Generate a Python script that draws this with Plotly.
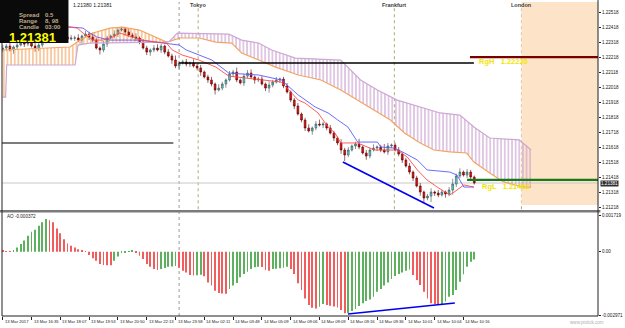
import plotly.graph_objects as go

# ---------------- data ----------------
bars = list(range(132))
closes = [
    1.22281, 1.22294, 1.22268, 1.22288, 1.22301, 1.22314, 1.22308, 1.22321, 1.22294, 1.22281,
    1.22301, 1.22321, 1.22334, 1.22348, 1.22361, 1.22354, 1.22368, 1.22354, 1.22341, 1.22348,
    1.22348, 1.22334, 1.22361, 1.22374, 1.22354, 1.22334, 1.22281, 1.22268, 1.22308, 1.22348,
    1.22361, 1.22374, 1.22401, 1.22408, 1.22388, 1.22368, 1.22354, 1.22348, 1.22321, 1.22281,
    1.22254, 1.22268, 1.22281, 1.22268, 1.22294, 1.22254, 1.22228, 1.22201, 1.22161, 1.22181,
    1.22188, 1.22174, 1.22181, 1.22161, 1.22148, 1.22121, 1.22088, 1.22068, 1.22041, 1.22001,
    1.22014, 1.22041, 1.22068, 1.22108, 1.22121, 1.22068, 1.22048, 1.22094, 1.22114, 1.22088,
    1.22068, 1.22074, 1.22041, 1.22014, 1.22034, 1.22054, 1.22068, 1.22074, 1.22028, 1.21988,
    1.21934, 1.21894, 1.21841, 1.21801, 1.21748, 1.21728, 1.21748, 1.21774, 1.21768, 1.21774,
    1.21748, 1.21714, 1.21681, 1.21648, 1.21601, 1.21568, 1.21601, 1.21628, 1.21641, 1.21621,
    1.21581, 1.21561, 1.21601, 1.21614, 1.21621, 1.21601, 1.21588, 1.21628, 1.21634, 1.21601,
    1.21574, 1.21534, 1.21494, 1.21454, 1.21414, 1.21361, 1.21321, 1.21281, 1.21294, 1.21321,
    1.21314, 1.21301, 1.21321, 1.21308, 1.21334, 1.21374, 1.21428, 1.21454, 1.21434, 1.21454,
    1.21421, 1.21381]
first_open = 1.22270
# wick lengths in 0.00001 price units
wick_up = [20, 15, 25, 10, 15, 20, 10, 15, 25, 20, 15, 10, 20, 15, 25, 10, 20, 15, 10, 20,
           15, 25, 10, 20, 15, 30, 15, 10, 20, 15, 10, 25, 20, 15, 10, 20, 15, 25, 10, 20,
           15, 10, 20, 25, 15, 10, 20, 15, 30, 10, 15, 20, 10, 25, 15, 20, 10, 15, 20, 10,
           25, 15, 10, 20, 15, 30, 10, 15, 20, 25, 10, 15, 20, 10, 25, 15, 20, 10, 15, 20,
           10, 15, 20, 10, 15, 25, 10, 20, 30, 15, 10, 20, 15, 10, 25, 15, 20, 10, 15, 35,
           10, 20, 15, 25, 10, 15, 40, 20, 10, 15, 20, 10, 15, 20, 10, 15, 20, 10, 15, 25,
           10, 20, 15, 10, 20, 35, 15, 25, 10, 20, 15, 10]
wick_dn = [15, 20, 10, 25, 15, 10, 20, 15, 10, 25, 20, 15, 10, 20, 15, 25, 10, 20, 15, 10,
           20, 15, 25, 10, 20, 15, 10, 30, 15, 20, 10, 15, 20, 10, 25, 15, 10, 20, 15, 10,
           20, 25, 15, 10, 20, 15, 10, 25, 15, 20, 10, 15, 20, 10, 15, 25, 10, 20, 15, 30,
           10, 15, 25, 10, 20, 15, 10, 20, 15, 10, 25, 15, 10, 20, 30, 15, 10, 20, 15, 10,
           15, 20, 10, 15, 20, 10, 25, 15, 10, 20, 15, 10, 20, 15, 25, 40, 15, 10, 20, 15,
           10, 25, 15, 10, 20, 15, 10, 20, 15, 10, 15, 20, 10, 15, 20, 10, 25, 30, 15, 40,
           20, 15, 10, 25, 15, 30, 20, 15, 10, 20, 15, 10]

ao_values = [
    0.00005, 0.00002, 0.00002, 0.00008, 0.00020, 0.00036, 0.00052, 0.00075, 0.00094, 0.00103,
    0.00122, 0.00138, 0.00153, 0.00148, 0.00138, 0.00109, 0.00086, 0.00059, 0.00039, 0.00028,
    0.00020, 0.00012, 0.00008, 0.00003, -0.00016, -0.00031, -0.00042, -0.00058, -0.00062, -0.00063,
    -0.00064, -0.00042, -0.00022, -0.00006, -0.00003, 0.00003, 0.00004, -0.00006, -0.00019, -0.00034,
    -0.00058, -0.00070, -0.00081, -0.00086, -0.00081, -0.00077, -0.00070, -0.00069, -0.00067, -0.00075,
    -0.00089, -0.00097, -0.00109, -0.00112, -0.00110, -0.00108, -0.00115, -0.00144, -0.00159, -0.00183,
    -0.00194, -0.00196, -0.00197, -0.00175, -0.00159, -0.00147, -0.00120, -0.00105, -0.00094, -0.00081,
    -0.00073, -0.00070, -0.00072, -0.00086, -0.00089, -0.00081, -0.00080, -0.00078, -0.00075, -0.00070,
    -0.00081, -0.00105, -0.00148, -0.00180, -0.00219, -0.00250, -0.00263, -0.00266, -0.00258, -0.00245,
    -0.00250, -0.00254, -0.00257, -0.00262, -0.00273, -0.00289, -0.00287, -0.00278, -0.00269, -0.00255,
    -0.00242, -0.00231, -0.00224, -0.00211, -0.00188, -0.00175, -0.00159, -0.00144, -0.00128, -0.00114,
    -0.00105, -0.00098, -0.00089, -0.00083, -0.00109, -0.00133, -0.00156, -0.00188, -0.00219, -0.00242,
    -0.00247, -0.00250, -0.00247, -0.00234, -0.00211, -0.00203, -0.00180, -0.00141, -0.00106, -0.00070,
    -0.00047, -0.00037]

span_a_x = [0, 18.7, 21.5, 25.1, 29.8, 33.3, 38.0, 42.7, 45.5, 46.3, 49.3, 54.5, 59.2, 63.6, 66.4,
            71.1, 75.8, 82.1, 88.4, 93.9, 98.6, 103.3, 107.7, 111.6, 116.0, 119.8, 124.2, 128.9,
            130.9, 135.3, 139.1, 144.6, 146.8]
span_a_y = [1.22268, 1.22288, 1.22334, 1.22381, 1.22414, 1.22421, 1.22401, 1.22354, 1.22321, 1.22325,
            1.22348, 1.22348, 1.22321, 1.22314, 1.22248, 1.22201, 1.22154, 1.22101, 1.22068, 1.22001,
            1.21934, 1.21868, 1.21801, 1.21714, 1.21648, 1.21601, 1.21588, 1.21581, 1.21521, 1.21448,
            1.21388, 1.21354, 1.21354]
span_b_x = [0, 0.8, 1.1, 20.1, 20.9, 24.2, 44.9, 46.3, 48.5, 62.8, 66.4, 71.1, 74.7, 81.3, 93.9,
            99.4, 104.1, 109.6, 121.5, 127.0, 130.9, 135.3, 143.5, 146.8]
span_b_y = [1.21954, 1.21954, 1.22168, 1.22168, 1.22301, 1.22314, 1.22321, 1.22325, 1.22381, 1.22374,
            1.22334, 1.22314, 1.22268, 1.22214, 1.22201, 1.22068, 1.22001, 1.21934, 1.21848, 1.21834,
            1.21754, 1.21681, 1.21668, 1.21601]
cloud_cross = 46.3

tenkan_x = [0, 18.7, 20.7, 22.3, 25.1, 27.8, 30.6, 32.5, 36.1, 38.8, 42.7, 45.5, 47.1, 49.9, 54.5,
            59.2, 62.8, 71.1, 77.4, 82.1, 84.0, 87.6, 90.4, 92.3, 93.9, 98.6, 103.3, 109.6, 112.4,
            115.2, 117.9, 120.7, 124.2, 126.2, 128.1, 130.9]
tenkan_y = [1.22421, 1.22421, 1.22414, 1.22381, 1.22334, 1.22334, 1.22354, 1.22381, 1.22354, 1.22334,
            1.22321, 1.22314, 1.22268, 1.22234, 1.22201, 1.22154, 1.22094, 1.22074, 1.22054, 1.21934,
            1.21914, 1.21848, 1.21754, 1.21714, 1.21648, 1.21648, 1.21601, 1.21601, 1.21554, 1.21468,
            1.21401, 1.21354, 1.21301, 1.21334, 1.21368, 1.21354]
kijun_x = [0, 18.7, 22.3, 24.2, 26.2, 29.8, 38.0, 45.5, 49.0, 51.0, 54.5, 58.1, 62.8, 71.1, 77.4,
           82.1, 86.8, 90.4, 93.1, 95.9, 98.6, 104.1, 105.0, 108.8, 111.6, 115.2, 117.9, 124.2,
           126.2, 128.1, 130.9]
kijun_y = [1.22421, 1.22421, 1.22414, 1.22381, 1.22354, 1.22334, 1.22334, 1.22314, 1.22301, 1.22268,
           1.22234, 1.22201, 1.22114, 1.22101, 1.22068, 1.21968, 1.21888, 1.21848, 1.21801, 1.21754,
           1.21654, 1.21654, 1.21621, 1.21614, 1.21581, 1.21534, 1.21468, 1.21454, 1.21434, 1.21354,
           1.21354]

trend_price_x = [94.5, 119.8]
trend_price_y = [1.21521, 1.21214]
trend_ao_x = [95.9, 125.6]
trend_ao_y = [-0.00292, -0.00241]

price_ticks = [1.22518, 1.22418, 1.22318, 1.22218, 1.22118, 1.22018, 1.21918,
               1.21818, 1.21718, 1.21618, 1.21518, 1.21418, 1.21318, 1.21218]
ao_ticks = [0.001719, 0.0, -0.002971]
ao_tick_text = ["0.001719", "0.00", "-0.002971"]
time_tick_bars = [0, 8, 16, 24, 32, 40, 48, 56, 64, 72, 80, 88, 96, 104, 112, 120, 128]
time_tick_labels = ["13 Mar 2017", "13 Mar 16:35", "13 Mar 18:07", "13 Mar 19:53", "13 Mar 20:50",
                    "13 Mar 22:13", "13 Mar 23:58", "14 Mar 02:11", "14 Mar 03:48", "14 Mar 05:09",
                    "14 Mar 09:06", "14 Mar 09:09", "14 Mar 09:16", "14 Mar 09:36", "14 Mar 10:01",
                    "14 Mar 10:04", "14 Mar 10:16"]
session_names = ["Tokyo", "Frankfurt", "London"]
session_bars = [54.3, 108.8, 144.1]
day_separator_bar = 49.0
range_high = 1.22220
range_low = 1.21402
bid_price = 1.21381
black_level = 1.22181
gray_level = 1.21648

# ---------------- geometry ----------------
X0, X1 = -0.2, 165.37
Y_MAIN = [1.21201, 1.22588]
Y_AO = [-0.003016, 0.001815]
MAIN_DOM = [0.3376, 1.0]
AO_DOM = [0.0, 0.328]
FONT = "Liberation Sans"

opens = [first_open] + closes[:-1]
highs = [max(o, c) + w * 1e-5 for o, c, w in zip(opens, closes, wick_up)]
lows = [min(o, c) - w * 1e-5 for o, c, w in zip(opens, closes, wick_dn)]

fig = go.Figure()

# Ichimoku cloud (hatched)
def cloud_poly(sel):
    a = [(x, y) for x, y in zip(span_a_x, span_a_y) if sel(x)]
    b = [(x, y) for x, y in zip(span_b_x, span_b_y) if sel(x)]
    pts = a + b[::-1]
    return [p[0] for p in pts], [p[1] for p in pts]

for sel, col in [(lambda x: x <= cloud_cross, "#F4A460"), (lambda x: x >= cloud_cross, "#C9A0D0")]:
    px, py = cloud_poly(sel)
    fig.add_trace(go.Scatter(x=px, y=py, mode="lines", line=dict(width=0), fill="toself",
                             fillcolor="rgba(0,0,0,0)",
                             fillpattern=dict(shape="|", size=3.63, solidity=0.3, fgcolor=col,
                                              bgcolor="rgba(0,0,0,0)", fillmode="replace"),
                             hoverinfo="skip", showlegend=False))

fig.add_trace(go.Scatter(x=span_a_x, y=span_a_y, mode="lines", line=dict(color="#F4A460", width=1.2),
                         showlegend=False))
fig.add_trace(go.Scatter(x=span_b_x, y=span_b_y, mode="lines", line=dict(color="#CDA8D4", width=1.2),
                         showlegend=False))
fig.add_trace(go.Scatter(x=kijun_x, y=kijun_y, mode="lines", line=dict(color="#5A5AFF", width=0.9),
                         showlegend=False))
fig.add_trace(go.Scatter(x=tenkan_x, y=tenkan_y, mode="lines", line=dict(color="#FF4A4A", width=0.9),
                         showlegend=False))

fig.add_trace(go.Candlestick(
    x=bars, open=opens, high=highs, low=lows, close=closes,
    increasing=dict(fillcolor="#3FDCDC", line=dict(color="#4A4A4A", width=0.6)),
    decreasing=dict(fillcolor="#E01414", line=dict(color="#5A0000", width=0.6)),
    whiskerwidth=0, showlegend=False))

fig.add_trace(go.Scatter(x=trend_price_x, y=trend_price_y, mode="lines",
                         line=dict(color="#0000F0", width=1.6), showlegend=False))

# AO histogram
ao_colors = []
for k, v in enumerate(ao_values):
    up = k > 0 and v > ao_values[k - 1]
    ao_colors.append("#5DB05D" if up else "#F25C5C")
fig.add_trace(go.Bar(x=bars, y=ao_values, width=0.26, marker=dict(color=ao_colors, line=dict(width=0)),
                     xaxis="x2", yaxis="y2", showlegend=False))
fig.add_trace(go.Scatter(x=trend_ao_x, y=trend_ao_y, mode="lines", line=dict(color="#0000F0", width=1.6),
                         xaxis="x2", yaxis="y2", showlegend=False))

# ---------------- shapes ----------------
shapes = []
shapes.append(dict(type="rect", xref="x", yref="y", x0=session_bars[2], x1=X1, y0=1.21234, y1=Y_MAIN[1],
                   fillcolor="#FDE4C8", line=dict(width=0), layer="below"))
shapes.append(dict(type="line", xref="x", yref="paper", x0=day_separator_bar, x1=day_separator_bar,
                   y0=0, y1=1, line=dict(color="#9A9A9A", width=1, dash="dot"), layer="below"))
for b in session_bars:
    shapes.append(dict(type="line", xref="x", yref="paper", x0=b, x1=b, y0=0.34, y1=0.985,
                       line=dict(color="#AFA874", width=1, dash="dot"), layer="below"))
shapes.append(dict(type="line", xref="x", yref="y", x0=X0, x1=X1, y0=bid_price, y1=bid_price,
                   line=dict(color="#C8C8C8", width=1), layer="below"))
shapes.append(dict(type="line", xref="x", yref="y", x0=X0, x1=47.4, y0=gray_level, y1=gray_level,
                   line=dict(color="#505050", width=1.5)))
shapes.append(dict(type="line", xref="x", yref="y", x0=day_separator_bar, x1=130.9, y0=black_level,
                   y1=black_level, line=dict(color="#000000", width=1.5)))
shapes.append(dict(type="line", xref="x", yref="y", x0=129.8, x1=X1, y0=range_high, y1=range_high,
                   line=dict(color="#7A0000", width=2.2)))
shapes.append(dict(type="line", xref="x", yref="y", x0=129.0, x1=X1, y0=range_low, y1=range_low,
                   line=dict(color="#1A7A1A", width=2.2)))
# panel separator and frame
shapes.append(dict(type="line", xref="paper", yref="paper", x0=-0.004, x1=1.004, y0=0.3335, y1=0.3335,
                   line=dict(color="#7A7A7A", width=2.5)))
for x in (0, 1):
    shapes.append(dict(type="line", xref="paper", yref="paper", x0=x, x1=x, y0=0, y1=1.006,
                       line=dict(color="#202020", width=1)))
shapes.append(dict(type="line", xref="paper", yref="paper", x0=0, x1=1, y0=0, y1=0,
                   line=dict(color="#202020", width=1)))
# info box
shapes.append(dict(type="rect", xref="paper", yref="paper", x0=-0.004, x1=0.1115, y0=0.8694, y1=1.007,
                   fillcolor="#0A0A0A", line=dict(width=0)))

# ---------------- annotations ----------------
ann = []
for b, t in zip(time_tick_bars, time_tick_labels):
    ann.append(dict(x=b, y=-0.018, xref="x2", yref="paper", text=t, showarrow=False, xanchor="left",
                    yanchor="middle", font=dict(family=FONT, size=4.2, color="#202020")))
for b, t in zip(session_bars, session_names):
    ann.append(dict(x=b, y=0.99, xref="x", yref="paper", text="<b>%s</b>" % t, showarrow=False,
                    xanchor="center", yanchor="middle", font=dict(family=FONT, size=5.5, color="#404040")))
ann.append(dict(x=131.7, y=1.22194, xref="x", yref="y", text="<b>RgH   %.5f</b>" % range_high,
                showarrow=False, xanchor="left", yanchor="middle",
                font=dict(family=FONT, size=7.5, color="#F2E600")))
ann.append(dict(x=132.5, y=1.21361, xref="x", yref="y", text="<b>RgL   %.5f</b>" % range_low,
                showarrow=False, xanchor="left", yanchor="middle",
                font=dict(family=FONT, size=7.5, color="#F2E600")))
info_rows = [("Spread", "0.5", 0.9586), ("Range", "8, 98", 0.9395), ("Candle", "03:00", 0.9204)]
for lab, val, yy in info_rows:
    ann.append(dict(x=0.025, y=yy, xref="paper", yref="paper", text="<b>%s</b>" % lab, showarrow=False,
                    xanchor="left", yanchor="middle", font=dict(family=FONT, size=6, color="#BFA987")))
    ann.append(dict(x=0.068, y=yy, xref="paper", yref="paper", text="<b>%s</b>" % val, showarrow=False,
                    xanchor="left", yanchor="middle", font=dict(family=FONT, size=6, color="#BFA987")))
ann.append(dict(x=0.0516, y=0.8885, xref="paper", yref="paper", text="<b>%.5f</b>" % bid_price,
                showarrow=False, xanchor="center", yanchor="middle",
                font=dict(family=FONT, size=13, color="#FFFF00")))
ann.append(dict(x=0.115, y=0.991, xref="paper", yref="paper", text="1.21380 1.21381", showarrow=False,
                xanchor="left", yanchor="middle", font=dict(family=FONT, size=5.2, color="#202020")))
ann.append(dict(x=0.005, y=0.318, xref="paper", yref="paper", text="AO -0.000372", showarrow=False,
                xanchor="left", yanchor="middle", font=dict(family=FONT, size=4.6, color="#202020")))
ann.append(dict(x=1.003, y=bid_price, xref="paper", yref="y", text="%.5f" % bid_price, showarrow=False,
                xanchor="left", yanchor="middle", bgcolor="#303030", borderpad=0,
                font=dict(family=FONT, size=4.6, color="#FFFFFF")))
ann.append(dict(x=1.013, y=-0.02, xref="paper", yref="paper", text="www.pixtick.com", showarrow=False,
                xanchor="right", yanchor="middle", font=dict(family=FONT, size=4.6, color="#B0B0B0")))

fig.update_layout(
    width=625, height=328, margin=dict(l=2, r=22, t=2, b=12),
    paper_bgcolor="#FFFFFF", plot_bgcolor="#FFFFFF", showlegend=False, barmode="overlay",
    shapes=shapes, annotations=ann, font=dict(family=FONT, size=5, color="#202020"),
    xaxis=dict(domain=[0, 1], range=[X0, X1], anchor="y", showticklabels=False, showgrid=False,
               zeroline=False, showline=False, rangeslider=dict(visible=False), ticks=""),
    xaxis2=dict(domain=[0, 1], range=[X0, X1], anchor="y2", matches="x", showticklabels=False,
                showgrid=False, zeroline=False, showline=False, ticks="outside", ticklen=3,
                tickcolor="#202020", tickvals=time_tick_bars),
    yaxis=dict(domain=MAIN_DOM, range=Y_MAIN, side="right", anchor="x", showgrid=False, zeroline=False,
               tickvals=price_ticks, ticktext=["%.5f" % v for v in price_ticks], ticks="outside",
               ticklen=2, tickcolor="#202020", tickfont=dict(family=FONT, size=4.6, color="#202020")),
    yaxis2=dict(domain=AO_DOM, range=Y_AO, side="right", anchor="x2", showgrid=False, zeroline=False,
                tickvals=ao_ticks, ticktext=ao_tick_text, ticks="outside", ticklen=2, tickcolor="#202020",
                tickfont=dict(family=FONT, size=4.6, color="#202020")),
)

fig.write_html("out.html")
